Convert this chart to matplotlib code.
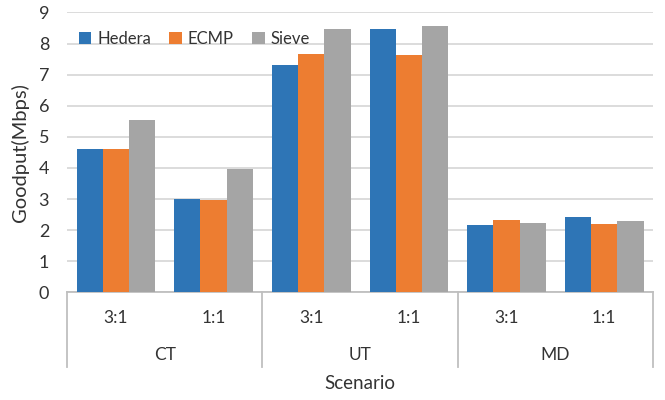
import numpy as np
import matplotlib
matplotlib.use("Agg")
import matplotlib.pyplot as plt
import matplotlib.transforms as mtransforms

plt.rcParams['font.family'] = ['Lato', 'DejaVu Sans']

# data
scenarios = ['CT', 'UT', 'MD']
ratios = ['3:1', '1:1']
series = ['Hedera', 'ECMP', 'Sieve']
hedera = [4.62, 3.00, 7.31, 8.48, 2.17, 2.41]
ecmp = [4.62, 2.97, 7.66, 7.63, 2.32, 2.21]
sieve = [5.54, 3.97, 8.46, 8.56, 2.22, 2.28]
colors = ['#2E75B6', '#ED7D31', '#A5A5A5']

fig = plt.figure(figsize=(6.65, 4.0), dpi=100)
ax = fig.add_axes([0.101, 0.269, 0.881, 0.700])

n = len(hedera)
x = np.arange(n)
w = 0.269
for i, (vals, name) in enumerate(zip([hedera, ecmp, sieve], series)):
    ax.bar(x + (i - 1) * w, vals, width=w, color=colors[i], label=name, zorder=3)

ax.set_xlim(-0.5, n - 0.5)
ax.set_ylim(0, 9)
ax.set_yticks(range(0, 10))
ax.yaxis.grid(True, color='#D9D9D9', linewidth=1.3, zorder=0)
for s in ['top', 'right', 'left']:
    ax.spines[s].set_visible(False)
ax.spines['bottom'].set_color('#BFBFBF')
ax.spines['bottom'].set_linewidth(1.3)
ax.tick_params(axis='y', length=0, pad=13, labelsize=13, labelcolor='#333333')
ax.set_xticks([])

# multi-level category axis
trans = mtransforms.blended_transform_factory(ax.transData, ax.transAxes)
for k in range(len(scenarios) + 1):
    xb = -0.5 + 2 * k
    ax.plot([xb, xb], [0, -0.268], transform=trans, clip_on=False,
            color='#BFBFBF', linewidth=1.3)
for j in range(n):
    ax.text(j, -0.091, ratios[j % 2], transform=trans, ha='center', va='center',
            fontsize=12.5, color='#333333')
for k, sc in enumerate(scenarios):
    ax.text(2 * k + 0.5, -0.224, sc, transform=trans, ha='center', va='center',
            fontsize=12.5, color='#333333')
ax.text(0.5, -0.326, 'Scenario', transform=ax.transAxes, ha='center', va='center',
        fontsize=13.5, color='#333333')
ax.set_ylabel('Goodput(Mbps)', fontsize=14.5, color='#333333', labelpad=7)

ax.legend(loc='upper left', bbox_to_anchor=(0.0, 0.975), ncol=3, frameon=False,
          fontsize=12, handlelength=0.75, handleheight=0.75, handletextpad=0.35,
          columnspacing=1.1, borderaxespad=0.3, labelcolor='#333333')

fig.savefig('out.png', dpi=100)
